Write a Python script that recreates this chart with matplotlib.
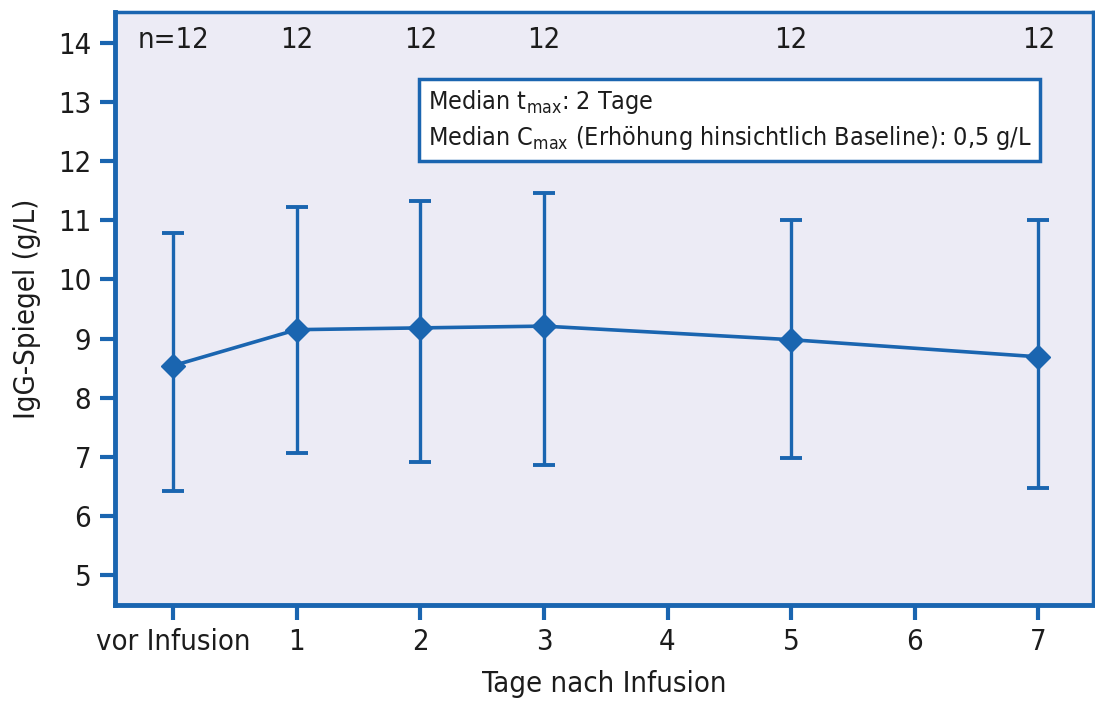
import matplotlib.pyplot as plt

# data
days = [0, 1, 2, 3, 5, 7]
mean = [8.54, 9.15, 9.18, 9.21, 8.98, 8.69]
upper = [10.79, 11.22, 11.33, 11.46, 11.0, 11.0]
lower = [6.42, 7.06, 6.91, 6.85, 6.98, 6.47]
n_labels = ['n=12', '12', '12', '12', '12', '12']
xtick_pos = [0, 1, 2, 3, 4, 5, 6, 7]
xtick_labels = ['vor Infusion', '1', '2', '3', '4', '5', '6', '7']
ytick_pos = [5, 6, 7, 8, 9, 10, 11, 12, 13, 14]

# condensed face is closer to the original typesetting
plt.rcParams['font.family'] = ['DejaVu Sans']
plt.rcParams['font.stretch'] = 'condensed'

blue = '#1a65b0'
bg = '#ecebf5'
ink = '#1c1c1c'

fig = plt.figure(figsize=(10.95, 7.09), dpi=100)
ax = fig.add_axes([0.105, 0.147, 0.893, 0.836])
ax.set_facecolor(bg)

yerr = [[m - l for m, l in zip(mean, lower)], [u - m for m, u in zip(mean, upper)]]
ax.errorbar(days, mean, yerr=yerr, color=blue, lw=2.6, elinewidth=2.4, capsize=8,
            capthick=2.8, marker='D', ms=12.5, mfc=blue, mec=blue)

for x, t in zip(days, n_labels):
    ax.text(x, 14.05, t, ha='center', va='center', fontsize=21, color=ink)

ax.text(2.06, 12.7, 'Median t$_{\\mathregular{max}}$: 2 Tage\n'
        'Median C$_{\\mathregular{max}}$ (Erhöhung hinsichtlich Baseline): 0,5 g/L',
        ha='left', va='center', fontsize=18, color=ink, linespacing=1.4,
        bbox=dict(boxstyle='square,pad=0.35', fc='white', ec=blue, lw=2.5))

ax.set_xlim(-0.47, 7.44)
ax.set_ylim(4.49, 14.53)
ax.set_xticks(xtick_pos)
ax.set_xticklabels(xtick_labels)
ax.set_yticks(ytick_pos)
ax.tick_params(axis='both', direction='out', length=11, width=3, color=blue,
               labelsize=21, labelcolor=ink, pad=6)
for side in ['left', 'bottom']:
    ax.spines[side].set_linewidth(3.5)
    ax.spines[side].set_color(blue)
for side in ['top', 'right']:
    ax.spines[side].set_linewidth(2.5)
    ax.spines[side].set_color(blue)

ax.set_xlabel('Tage nach Infusion', fontsize=21, color=ink, labelpad=10)
ax.set_ylabel('IgG-Spiegel (g/L)', fontsize=21, color=ink, labelpad=12)

fig.savefig('out.png', dpi=100)
